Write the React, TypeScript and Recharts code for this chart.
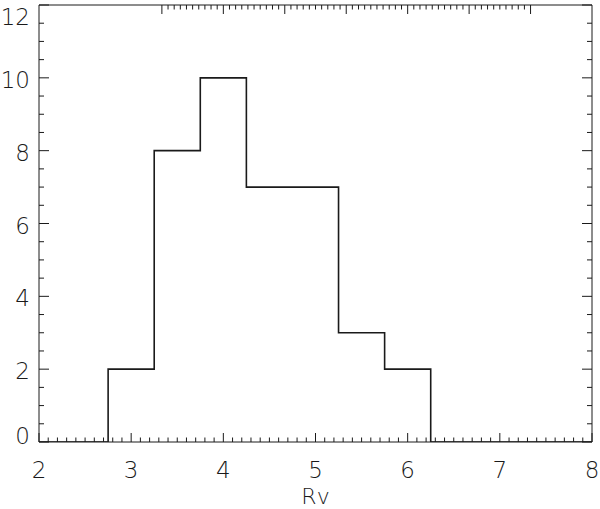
import { ComposedChart, Line, XAxis, YAxis } from 'recharts'

// histogram of Rv: bin edges and counts
const binEdges = [2.75, 3.25, 3.75, 4.25, 4.75, 5.25, 5.75, 6.25]
const counts = [2, 8, 10, 7, 7, 3, 2]

const xMajorTicks = [2, 3, 4, 5, 6, 7, 8]
const yMajorTicks = [0, 2, 4, 6, 8, 10, 12]
const xLabel = 'Rv'

const X_MIN = 2
const X_MAX = 8
const Y_MIN = 0
const Y_MAX = 12

// step points: start at the left edge of the axis, close at zero on the right
const stepData = [
  { x: X_MIN, y: 0 },
  ...binEdges.map((e, i) => ({ x: e, y: i < counts.length ? counts[i] : 0 })),
  { x: X_MAX, y: 0 },
]

// minor ticks: 10 per unit on x, 4 per major step on y
const xTicks: number[] = []
for (let i = 0; i < xMajorTicks.length - 1; i++) {
  for (let k = 0; k < 10; k++) xTicks.push(Math.round((xMajorTicks[i] + k * 0.1) * 10) / 10)
}
xTicks.push(xMajorTicks[xMajorTicks.length - 1])

const yTicks: number[] = []
for (let i = 0; i < yMajorTicks.length - 1; i++) {
  for (let k = 0; k < 4; k++) yTicks.push(yMajorTicks[i] + k * 0.5)
}
yTicks.push(yMajorTicks[yMajorTicks.length - 1])

const INK = '#1a1a1a'
const FONT = '"DejaVu Sans", sans-serif'

const isMajor = (v: number, majors: number[]) => majors.some((m) => Math.abs(m - v) < 1e-6)

function BottomTick({ x, y, payload }: any) {
  const major = isMajor(payload.value, xMajorTicks)
  return (
    <g>
      <line x1={x} y1={y} x2={x} y2={y - (major ? 9 : 4.5)} stroke={INK} strokeWidth={1} />
      {major && (
        <text x={x} y={y + 28} textAnchor="middle" dominantBaseline="central" fontSize={23} fontWeight={200} fontFamily={FONT} fill={INK}>
          {payload.value}
        </text>
      )}
    </g>
  )
}

function TopTick({ x, y, payload }: any) {
  const major = isMajor(payload.value, xMajorTicks)
  return <line x1={x} y1={y} x2={x} y2={y + (major ? 9 : 4.5)} stroke={INK} strokeWidth={1} />
}

function LeftTick({ x, y, payload }: any) {
  const major = isMajor(payload.value, yMajorTicks)
  const ly = Math.min(Math.max(y + 2, 16.5), 436)
  return (
    <g>
      <line x1={x} y1={y} x2={x + (major ? 10 : 5)} y2={y} stroke={INK} strokeWidth={1} />
      {major && (
        <text x={x - 9} y={ly} textAnchor="end" dominantBaseline="central" fontSize={23} fontWeight={200} fontFamily={FONT} fill={INK}>
          {payload.value}
        </text>
      )}
    </g>
  )
}

function RightTick({ x, y, payload }: any) {
  const major = isMajor(payload.value, yMajorTicks)
  return <line x1={x} y1={y} x2={x - (major ? 10 : 5)} y2={y} stroke={INK} strokeWidth={1} />
}

export default function App() {
  return (
    <div style={{ position: 'absolute', left: 0, top: 0, background: '#fff' }}>
      <ComposedChart width={600} height={509} data={stepData} margin={{ top: 4, right: 7, left: 0, bottom: 0 }}>
        <XAxis
          dataKey="x"
          type="number"
          domain={[X_MIN, X_MAX]}
          allowDataOverflow
          ticks={xTicks}
          interval={0}
          tickSize={0}
          tickMargin={0}
          tick={<BottomTick />}
          axisLine={{ stroke: INK, strokeWidth: 1 }}
          height={67}
          label={{ value: xLabel, position: 'insideBottom', offset: 0, dy: -5, fontSize: 22, fontWeight: 200, fontFamily: FONT, fill: INK }}
        />
        <XAxis
          xAxisId="top"
          orientation="top"
          type="number"
          domain={[X_MIN, X_MAX]}
          allowDataOverflow
          ticks={xTicks}
          interval={0}
          tickSize={0}
          tickMargin={0}
          tick={<TopTick />}
          axisLine={{ stroke: INK, strokeWidth: 1 }}
          height={1}
        />
        <YAxis
          type="number"
          domain={[Y_MIN, Y_MAX]}
          allowDataOverflow
          ticks={yTicks}
          interval={0}
          tickSize={0}
          tickMargin={0}
          tick={<LeftTick />}
          axisLine={{ stroke: INK, strokeWidth: 1 }}
          width={39}
        />
        <YAxis
          yAxisId="right"
          orientation="right"
          type="number"
          domain={[Y_MIN, Y_MAX]}
          allowDataOverflow
          ticks={yTicks}
          interval={0}
          tickSize={0}
          tickMargin={0}
          tick={<RightTick />}
          axisLine={{ stroke: INK, strokeWidth: 1 }}
          width={1}
        />
        <Line
          type="stepAfter"
          dataKey="y"
          stroke={INK}
          strokeWidth={1.6}
          dot={false}
          activeDot={false}
          isAnimationActive={false}
        />
      </ComposedChart>
    </div>
  )
}
